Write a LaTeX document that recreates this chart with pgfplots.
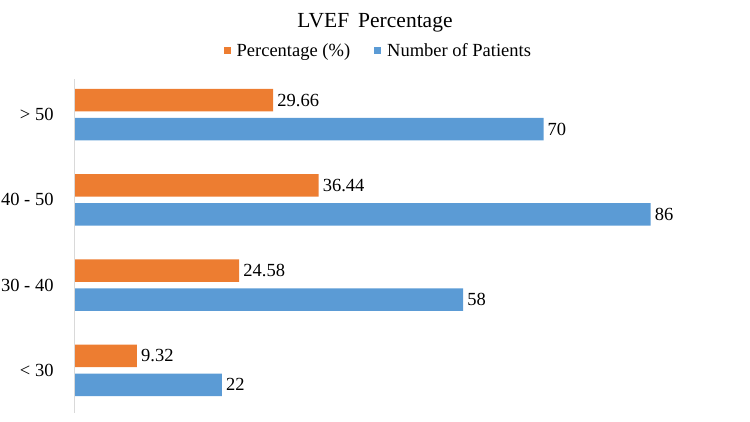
\documentclass[border=0pt]{standalone}
\usepackage{fontspec}
\setmainfont{Liberation Serif}
\usepackage{pgfplots}
\pgfplotsset{compat=1.18}
\definecolor{lvefOrange}{HTML}{ED7D31}
\definecolor{lvefBlue}{HTML}{5B9BD5}
\definecolor{axisGray}{HTML}{D9D9D9}
\newcommand{\lblfont}{\fontsize{18.5pt}{22pt}\selectfont}

\begin{document}
\begin{tikzpicture}
\useasboundingbox (0,0) rectangle (750pt,422pt);
\node[anchor=base, font=\fontsize{21.5pt}{25pt}\selectfont] at (375pt,394.5pt) {LVEF\hspace{0.42em}Percentage};
\begin{axis}[
  at={(74.5pt,9pt)}, anchor=south west,
  scale only axis, width=670pt, height=341pt,
  xbar, bar width=22.5pt,
  xmin=0, xmax=100, ymin=-0.5, ymax=3.5,
  axis line style={draw=none},
  xtick=\empty,
  ytick={0,1,2,3},
  yticklabels={< 30, 30 - 40, 40 - 50, > 50},
  ytick style={draw=none},
  yticklabel style={font=\lblfont, inner sep=0pt, anchor=east, xshift=-16.5pt},
  point meta=explicit symbolic,
  nodes near coords,
  every node near coord/.append style={font=\lblfont, inner sep=0pt, anchor=west, xshift=4pt, text=black},
  legend style={at={(0.452,1.062)}, anchor=center, legend columns=2, draw=none, fill=none,
    font=\lblfont, nodes={inner sep=0pt},
    /tikz/every odd column/.append style={column sep=6pt},
    /tikz/every even column/.append style={column sep=24pt}},
  legend image code/.code={\fill[#1] (0pt,-3.5pt) rectangle (7pt,3.5pt);},
  clip=false,
]
\addplot[fill=lvefOrange, draw=none, bar shift=14.5pt]
  coordinates {(9.32,0) [9.32] (24.58,1) [24.58] (36.44,2) [36.44] (29.66,3) [29.66]};
\addlegendentry{Percentage (\%)}
\addplot[fill=lvefBlue, draw=none, bar shift=-14.5pt]
  coordinates {(22,0) [22] (58,1) [58] (86,2) [86] (70,3) [70]};
\addlegendentry{Number of Patients}
\draw[axisGray, line width=0.8pt] (rel axis cs:0,0) -- (rel axis cs:0,0.98);
\end{axis}
\end{tikzpicture}
\end{document}
